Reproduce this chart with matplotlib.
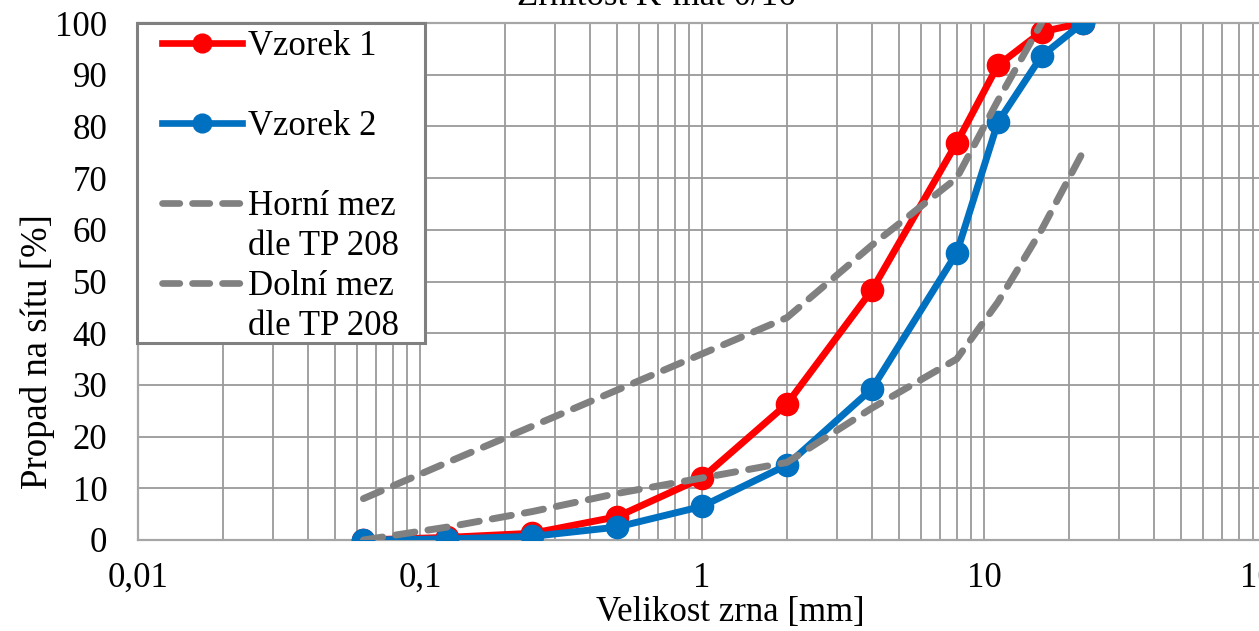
import matplotlib
matplotlib.use("Agg")
import matplotlib.pyplot as plt
from matplotlib.lines import Line2D
from matplotlib.patches import Rectangle
from matplotlib.ticker import FixedLocator, FixedFormatter, LogLocator, NullFormatter

plt.rcParams['font.family'] = ['Liberation Serif', 'DejaVu Serif']

# ---- data ----
sieve_mm = [0.063, 0.125, 0.25, 0.5, 1, 2, 4, 8, 11.2, 16, 22.4]
vzorek1 = [0.0, 0.5, 1.3, 4.5, 12.0, 26.3, 48.3, 76.8, 91.8, 98.3, 100.0]
vzorek2 = [0.0, 0.2, 0.7, 2.5, 6.5, 14.5, 29.2, 55.5, 80.8, 93.6, 100.0]
upper_sieve = [0.063, 0.125, 0.25, 0.5, 1, 2, 4, 8, 11.2, 16]
upper_limit = [8.0, 15.0, 22.0, 29.0, 36.0, 43.0, 57.0, 70.0, 85.0, 100.0]
lower_sieve = [0.063, 0.125, 0.25, 0.5, 1, 2, 4, 8, 11.2, 16, 22.4]
lower_limit = [0.0, 2.5, 5.5, 9.0, 12.0, 15.0, 25.5, 35.0, 46.0, 60.0, 75.0]
x_ticks = [0.01, 0.1, 1, 10, 100]
x_tick_labels = ['0,01', '0,1', '1', '10', '100']
y_ticks = list(range(0, 101, 10))
title = 'Zrnitost K-mat 0/16'
xlabel = 'Velikost zrna [mm]'
ylabel = 'Propad na sítu [%]'
labels = ['Vzorek 1', 'Vzorek 2', 'Horní mez', 'dle TP 208', 'Dolní mez', 'dle TP 208']

W, H = 1259, 631
fig = plt.figure(figsize=(W / 100, H / 100), dpi=100)
L, R, T, B = 138, 1266, 23, 540
ax = fig.add_axes([L / W, 1 - B / H, (R - L) / W, (B - T) / H])

RED = '#FF0000'
BLUE = '#0070C0'
GRAY = '#808080'
lw = 5.0
ms = 16
dash = (2.8, 1.9)
FS = 25

ax.plot(sieve_mm, vzorek1, color=RED, lw=lw, marker='o', ms=ms, mec=RED, mfc=RED, zorder=3,
        solid_joinstyle='round')
ax.plot(sieve_mm, vzorek2, color=BLUE, lw=lw, marker='o', ms=ms, mec=BLUE, mfc=BLUE, zorder=3.1,
        solid_joinstyle='round')
ax.plot(upper_sieve, upper_limit, color=GRAY, lw=lw, dashes=dash, dash_capstyle='round', zorder=3.2)
ax.plot(lower_sieve, lower_limit, color=GRAY, lw=lw, dashes=dash, dash_capstyle='round', zorder=3.3)

ax.set_xscale('log')
ax.set_xlim(0.01, 100)
ax.set_ylim(0, 100)
ax.xaxis.set_major_locator(FixedLocator(x_ticks))
ax.xaxis.set_major_formatter(FixedFormatter(x_tick_labels))
ax.xaxis.set_minor_locator(LogLocator(base=10, subs=range(2, 10)))
ax.xaxis.set_minor_formatter(NullFormatter())
ax.set_yticks(y_ticks)
ax.tick_params(axis='both', which='both', length=0, labelsize=FS, colors='black')
ax.tick_params(axis='x', pad=16)
ax.tick_params(axis='y', pad=22)

gc = '#9a9a9a'
ax.grid(True, which='both', axis='x', color=gc, lw=1.3, zorder=0)
ax.grid(True, which='major', axis='y', color=gc, lw=1.3, zorder=0)
ax.set_axisbelow(True)
for s in ax.spines.values():
    s.set_color('#a6a6a6')
    s.set_linewidth(1.6)

fig.text(656 / W, 1 - 5 / H, title, ha='center', va='baseline', fontsize=FS)
fig.text(730 / W, 1 - 612 / H, xlabel, ha='center', va='center', fontsize=FS)
fig.text(38 / W, 1 - 352 / H, ylabel, ha='center', va='center', rotation=90, fontsize=26.5)

# legend
hlw = 4.8
handles = [
    Line2D([], [], color=RED, lw=hlw, marker='o', ms=13.5, mec=RED),
    Line2D([], [], ls='none'),
    Line2D([], [], color=BLUE, lw=hlw, marker='o', ms=13.5, mec=BLUE),
    Line2D([], [], ls='none'),
    Line2D([], [], color=GRAY, lw=hlw, dashes=(2.6, 1.9), dash_capstyle='round'),
    Line2D([], [], ls='none'),
    Line2D([], [], color=GRAY, lw=hlw, dashes=(2.6, 1.9), dash_capstyle='round'),
    Line2D([], [], ls='none'),
]
leg_labels = [labels[0], ' ', labels[1], ' ', labels[2], labels[3], labels[4], labels[5]]
rect = Rectangle(((137 - L) / (R - L), (B - 343) / (B - T)), (425 - 137) / (R - L), (343 - 23) / (B - T),
                 transform=ax.transAxes, facecolor='white', edgecolor=GRAY, lw=2.2, zorder=4.5, clip_on=False)
ax.add_patch(rect)
leg = ax.legend(handles, leg_labels, loc='upper left', bbox_to_anchor=((162 - L) / (R - L), 1 - 7 / (B - T)),
                frameon=False, borderpad=0, borderaxespad=0, fontsize=FS, handlelength=2.3,
                handletextpad=0.18, labelspacing=0.2)
leg.set_zorder(5)

fig.savefig('out.png', dpi=100)
